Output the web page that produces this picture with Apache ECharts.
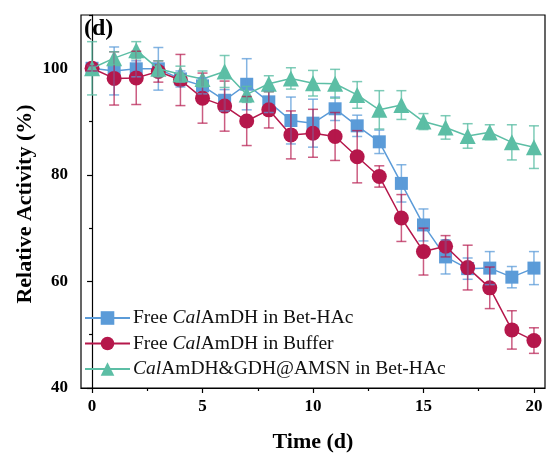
<!DOCTYPE html>
<html><head><meta charset="utf-8">
<script src="https://cdn.jsdelivr.net/npm/echarts@6/dist/echarts.min.js"></script>
<style>html,body{margin:0;padding:0;background:#fff}#c{width:547px;height:461px}</style>
</head><body><div id="c"></div>
<script>
const days = [0,1,2,3,4,5,6,7,8,9,10,11,12,13,14,15,16,17,18,19,20];
const xTicks = [0,5,10,15,20];
const xMinorTicks = [2.5,7.5,12.5,17.5];
const yTicks = [40,60,80,100];
const yMinorTicks = [50,70,90,110];
const seriesNames = ['Free CalAmDH in Bet-HAc','Free CalAmDH in Buffer','CalAmDH&GDH@AMSN in Bet-HAc'];
const blueVals = [100,99.5,99.9,99.9,98.0,96.7,94.0,97.0,93.7,90.2,89.7,92.4,89.2,86.2,78.4,70.6,64.6,62.4,62.5,60.8,62.5];
const blueErr  = [0.5,4.5,1.5,4.0,1.5,1.5,2.0,4.8,2.0,4.4,4.5,2.2,2.0,2.2,3.5,3.0,3.2,2.0,3.1,2.0,3.1];
const redVals  = [100,98.1,98.2,99.4,97.8,94.4,92.9,90.1,92.2,87.5,87.8,87.2,83.4,79.7,71.9,65.6,66.6,62.6,58.8,50.9,48.9];
const redErr   = [0.5,5.0,5.0,2.0,4.8,4.7,4.7,4.6,3.4,4.5,4.5,4.5,4.9,2.0,4.4,4.4,2.0,4.2,3.9,3.6,2.4];
const greenVals= [100,101.9,103.4,99.9,98.9,98.0,99.4,95.1,97.1,98.1,97.2,97.1,95.0,92.2,93.1,90.0,88.9,87.3,88.0,86.1,85.2];
const greenErr = [5.0,1.2,1.6,1.5,1.5,1.5,3.0,1.5,1.5,2.0,2.4,2.7,2.5,3.6,2.7,1.5,2.2,2.3,1.4,3.3,4.0];

const FONT = '"Liberation Serif","Times New Roman",serif';
const colors = ['#5b9bd8','#b5174b','#5cbea5'];
const errColors = ['rgba(91,155,216,0.75)','rgba(181,23,75,0.7)','rgba(92,190,165,0.8)'];

function pairs(vals){ return days.map((d,i)=>[d, vals[i]]); }
function errData(vals, errs){ return days.map((d,i)=>[d, vals[i]-errs[i], vals[i]+errs[i]]); }
function errSeries(vals, errs, color, z){
  return {
    type:'custom', z:z, silent:true,
    data: errData(vals, errs),
    encode:{x:0, y:[1,2]},
    renderItem: function(params, api){
      const x = api.value(0), lo = api.value(1), hi = api.value(2);
      const a = api.coord([x, lo]), b = api.coord([x, hi]);
      const w = 5;
      const st = {stroke: color, lineWidth: 1.5};
      return {type:'group', children:[
        {type:'line', shape:{x1:a[0], y1:a[1], x2:b[0], y2:b[1]}, style:st},
        {type:'line', shape:{x1:a[0]-w, y1:a[1], x2:a[0]+w, y2:a[1]}, style:st},
        {type:'line', shape:{x1:b[0]-w, y1:b[1], x2:b[0]+w, y2:b[1]}, style:st}
      ]};
    }
  };
}
function lineSeries(name, vals, color, symbol, size, z){
  return {
    name:name, type:'line', data:pairs(vals), z:z,
    symbol:symbol, symbolSize:size, showAllSymbol:true,
    lineStyle:{color:color, width:1.5},
    itemStyle:{color:color},
    emphasis:{disabled:true}, animation:false
  };
}

const chart = echarts.init(document.getElementById('c'));
const axisLabelStyle = {fontFamily:FONT, fontWeight:'bold', fontSize:17, color:'#000'};
chart.setOption({
  animation:false,
  grid:{left:81, right:2, top:15, bottom:73, show:true, borderColor:'#000', borderWidth:1.2},
  xAxis:[
    {type:'value', min:-0.5, max:20.5, position:'bottom',
     axisLine:{show:true, lineStyle:{color:'#000', width:1.2}},
     axisTick:{show:true, inside:false, length:5, customValues:xTicks, lineStyle:{color:'#000', width:1.2}},
     axisLabel:Object.assign({margin:10, customValues:xTicks}, axisLabelStyle),
     splitLine:{show:false}},
    {type:'value', min:-0.5, max:20.5, position:'bottom',
     axisLine:{show:false},
     axisTick:{show:true, inside:false, length:3, customValues:xMinorTicks, lineStyle:{color:'#000', width:1.2}},
     axisLabel:{show:false}, splitLine:{show:false}}
  ],
  yAxis:[
    {type:'value', min:40, max:110, position:'left',
     axisLine:{show:true, lineStyle:{color:'#000', width:1.2}},
     axisTick:{show:true, inside:false, length:5, customValues:yTicks, lineStyle:{color:'#000', width:1.2}},
     axisLabel:Object.assign({margin:13, customValues:yTicks}, axisLabelStyle),
     splitLine:{show:false}},
    {type:'value', min:40, max:110, position:'left',
     axisLine:{show:false},
     axisTick:{show:true, inside:false, length:3, customValues:yMinorTicks, lineStyle:{color:'#000', width:1.2}},
     axisLabel:{show:false}, splitLine:{show:false}}
  ],
  legend:{
    data:seriesNames, orient:'vertical', left:84, top:308, padding:0,
    itemWidth:45, itemHeight:17, itemGap:5.5,
    formatter:function(n){ return n.replace('Cal','{i|Cal}'); },
    textStyle:{fontFamily:FONT, fontSize:19.5, lineHeight:19, color:'#111', padding:[0,0,0,-2],
      rich:{i:{fontFamily:FONT, fontSize:19.5, lineHeight:19, fontStyle:'italic', color:'#111'}}}
  },
  graphic:[
    {type:'text', left:84, top:17, style:{text:'(d)', font:'bold 24px '+FONT, fill:'#000'}},
    {type:'text', x:25, y:204, rotation:Math.PI/2,
     style:{text:'Relative Activity (%)', font:'bold 22px '+FONT, fill:'#000', textAlign:'center', textVerticalAlign:'middle', align:'center', verticalAlign:'middle'}},
    {type:'text', x:313, y:442,
     style:{text:'Time (d)', font:'bold 22px '+FONT, fill:'#000', textAlign:'center', textVerticalAlign:'middle', align:'center', verticalAlign:'middle'}}
  ],
  series:[
    lineSeries(seriesNames[0], blueVals, colors[0], 'rect', 13, 2),
    lineSeries(seriesNames[1], redVals, colors[1], 'circle', 15, 3),
    lineSeries(seriesNames[2], greenVals, colors[2], 'triangle', 16, 4),
    errSeries(blueVals, blueErr, errColors[0], 5),
    errSeries(redVals, redErr, errColors[1], 6),
    errSeries(greenVals, greenErr, errColors[2], 7)
  ]
});
</script></body></html>
